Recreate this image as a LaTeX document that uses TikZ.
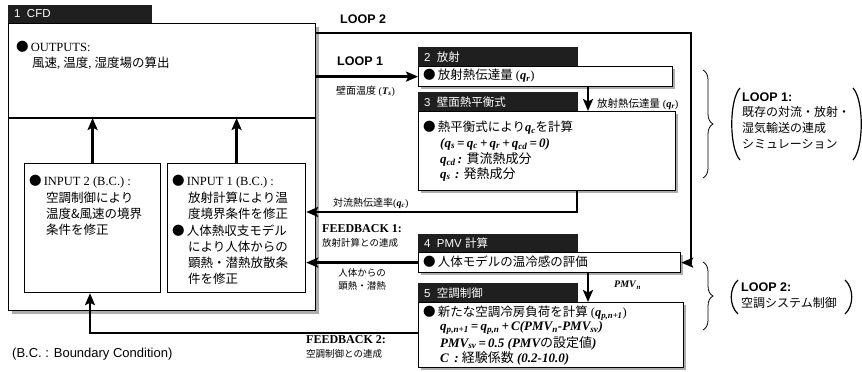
\documentclass[tikz,border=0pt]{standalone}
\usepackage{fontspec}
\setmainfont{Liberation Serif}
\setsansfont{Liberation Sans}
\newfontfamily\jp{Noto Sans CJK JP}
\usetikzlibrary{arrows.meta,decorations.pathreplacing}
\newcommand\J[1]{{\jp\mdseries\upshape #1}}
\newcommand\myV[2]{\textbf{\textit{#1}}\textsubscript{\textbf{\textit{#2}}}}
\begin{document}
\begin{tikzpicture}[x=1pt,y=-1pt,
 boxn/.style={draw, line width=1.2pt, fill=white, inner sep=0pt, anchor=north west},
 tabbox/.style={fill=black!88, inner sep=0pt, anchor=north west, minimum width=160pt, minimum height=19pt},
 tabtxt/.style={anchor=west, inner sep=0pt, text=white, font=\sffamily\fontsize{11.5}{13}\selectfont},
 txt/.style={anchor=west, inner sep=0pt, font=\fontsize{12.5}{15}\selectfont},
 bitxt/.style={anchor=west, inner sep=0pt, font=\bfseries\itshape\fontsize{13}{15}\selectfont},
 sml/.style={anchor=west, inner sep=0pt, font=\fontsize{10}{12}\selectfont},
 fbl/.style={anchor=west, inner sep=0pt, font=\bfseries\fontsize{12}{14}\selectfont},
 looplbl/.style={anchor=west, inner sep=0pt, font=\sffamily\bfseries\fontsize{12.5}{14}\selectfont},
 conn/.style={line width=2.6pt, -{Stealth[length=12pt,width=10pt,inset=2.5pt]}},
 shadowfill/.style={fill=black!32},
 mybrace/.style={decorate, decoration={brace, amplitude=10pt}, line width=0.8pt},
 paren/.style={line width=1.2pt}
]
\useasboundingbox (0,0) rectangle (862,372);
\fill[white] (0,0) rectangle (862,372);

% shadows
\fill[shadowfill] (12,27) rectangle (319,314);
\fill[shadowfill] (421,69) rectangle (675,89);
\fill[shadowfill] (421,114) rectangle (678,193);
\fill[shadowfill] (421,255) rectangle (683,275);
\fill[shadowfill] (421,305) rectangle (686,370);

% ---- 1 CFD ----
\node[tabbox, minimum width=144pt, minimum height=18pt] (t1) at (8,5) {};
\node[tabtxt] (t1t) at (14,14) {1\ \ CFD};
\node[boxn, minimum width=307pt, minimum height=287pt] (cfd) at (8,23) {};
\coordinate (div) at (8,118);
\draw[line width=1.2pt] (div) -- (div -| cfd.east);
\node[txt] (o1) at (16,47) {\J{●}\,OUTPUTS:};
\node[txt] (o2) at (32,63) {\J{風速}, \J{温度}, \J{湿度場の算出}};

\node[boxn, minimum width=136pt, minimum height=129pt] (in2) at (24,163) {};
\node[txt] (i2a) at (29,182) {\J{●}\,INPUT 2 (B.C.) :};
\node[txt] (i2b) at (46,198) {\J{空調制御により}};
\node[txt] (i2c) at (46,214) {\J{温度\&風速の境界}};
\node[txt] (i2d) at (46,230) {\J{条件を修正}};

\node[boxn, minimum width=138pt, minimum height=129pt] (in1) at (167,163) {};
\node[txt] (i1a) at (172,182) {\J{●}\,INPUT 1 (B.C.) :};
\node[txt] (i1b) at (188,198) {\J{放射計算により温}};
\node[txt] (i1c) at (188,214) {\J{度境界条件を修正}};
\node[txt] (i1d) at (172,231) {\J{●}\,\J{人体熱収支モデル}};
\node[txt] (i1e) at (188,247) {\J{により人体からの}};
\node[txt] (i1f) at (188,263) {\J{顕熱・潜熱放散条}};
\node[txt] (i1g) at (188,279) {\J{件を修正}};

\draw[conn] (in2.north) -- (in2.north |- div);
\draw[conn] (in1.north) -- (in1.north |- div);

% ---- 2 ----
\node[tabbox] (t2) at (418,47) {};
\node[tabtxt] (t2t) at (424,57) {2\ \ \J{放射}};
\node[boxn, minimum width=254pt, minimum height=20pt] (b2) at (418,66) {};
\node[txt] (b2a) at (423,76) {\J{●}\,\J{放射熱伝達量} (\myV{q}{r})};

% ---- 3 ----
\node[tabbox] (t3) at (418,92) {};
\node[tabtxt] (t3t) at (424,102) {3\ \ \J{壁面熱平衡式}};
\node[boxn, minimum width=257pt, minimum height=79pt] (b3) at (418,111) {};
\node[txt] (b3a) at (423,128) {\J{●}\,\J{熱平衡式により}\myV{q}{c}\J{を計算}};
\node[bitxt] (b3b) at (440,144) {(q\textsubscript{s}\,=\,q\textsubscript{c}\,+\,q\textsubscript{r}\,+\,q\textsubscript{cd}\,=\,0)};
\node[bitxt] (b3c) at (440,159) {q\textsubscript{cd}\,: \J{貫流熱成分}};
\node[bitxt] (b3d) at (440,174) {q\textsubscript{s}\,\,: \J{発熱成分}};

% ---- 4 ----
\node[tabbox, minimum height=18pt] (t4) at (418,234) {};
\node[tabtxt] (t4t) at (424,243) {4\ \ PMV \J{計算}};
\node[boxn, minimum width=262pt, minimum height=20pt] (b4) at (418,252) {};
\node[txt] (b4a) at (423,262) {\J{●}\,\J{人体モデルの温冷感の評価}};

% ---- 5 ----
\node[tabbox] (t5) at (418,283) {};
\node[tabtxt] (t5t) at (424,293) {5\ \ \J{空調制御}};
\node[boxn, minimum width=265pt, minimum height=65pt] (b5) at (418,302) {};
\node[txt] (b5a) at (423,313) {\J{●}\,\J{新たな空調冷房負荷を計算} (\myV{q}{p,n+1})};
\node[bitxt] (b5b) at (440,328) {q\textsubscript{p,n+1}\,=\,q\textsubscript{p,n}\,+\,C(PMV\textsubscript{n}-PMV\textsubscript{sv})};
\node[bitxt] (b5c) at (440,343) {PMV\textsubscript{sv}\,=\,0.5 (PMV\J{の設定値})};
\node[bitxt] (b5d) at (440,358) {C\, : \J{経験係数} (0.2-10.0)};

% ---- connectors ----
\coordinate (l2s) at (315,33);
\coordinate (l2c) at (691,33);
\draw[conn] (l2s) -- (l2c) |- (b4.east);
\node[looplbl] (lp2) at (340,19) {LOOP 2};

\draw[conn] (cfd.east |- b2.west) -- (b2.west);
\node[looplbl] (lp1) at (337,61) {LOOP 1};
\node[sml] (ts) at (336,91) {\J{壁面温度} (\myV{T}{s})};

\coordinate (ax) at (588,0);
\draw[conn] (b2.south -| ax) -- (b3.north -| ax);
\node[sml, font=\fontsize{10.5}{12}\selectfont] (qr) at (597,104) {\J{放射熱伝達量} (\myV{q}{r})};

\coordinate (qc) at (577,212);
\draw[conn] (b3.south -| qc) -- (qc) -- (in1.east |- qc);
\node[sml] (qcl) at (333,203) {\J{対流熱伝達率}(\myV{q}{c})};

\draw[conn] (b4.west) -- (in1.east |- b4.west);
\node[fbl] (fb1) at (322,229) {FEEDBACK 1:};
\node[sml, font=\fontsize{9.5}{11}\selectfont] (fb1j) at (322,243) {\J{放射計算との連成}};
\node[sml, anchor=center, font=\fontsize{9.5}{11}\selectfont] (hb1) at (362,273) {\J{人体からの}};
\node[sml, anchor=center, font=\fontsize{9.5}{11}\selectfont] (hb2) at (362,286) {\J{顕熱・潜熱}};

\draw[conn] (b4.south -| ax) -- (b5.north -| ax);
\node[sml] (pmvn) at (614,285) {\myV{PMV}{n}};

\coordinate (fb2c) at (90,333);
\draw[conn] (b5.west |- fb2c) -- (fb2c) -- (in2.south -| fb2c);
\node[fbl] (fb2) at (306,340) {FEEDBACK 2:};
\node[sml, font=\fontsize{9.5}{11}\selectfont] (fb2j) at (306,354) {\J{空調制御との連成}};

\node[anchor=west, inner sep=0pt, font=\sffamily\fontsize{13}{15}\selectfont] (bc) at (12,354) {(B.C. : Boundary Condition)};

% ---- right side ----
\draw[mybrace] (703,70) -- (703,178);
\draw[paren] (740,88) .. controls (729,100) and (729,148) .. (740,160);
\draw[paren] (853,88) .. controls (864,100) and (864,148) .. (853,160);
\node[looplbl] (r1a) at (742,97) {LOOP 1:};
\node[txt, font=\fontsize{12}{14}\selectfont] (r1b) at (742,112) {\J{既存の対流・放射・}};
\node[txt, font=\fontsize{12}{14}\selectfont] (r1c) at (742,128) {\J{湿気輸送の連成}};
\node[txt, font=\fontsize{12}{14}\selectfont] (r1d) at (742,144) {\J{シミュレーション}};

\draw[mybrace] (703,262) -- (703,330);
\draw[paren] (738,280) .. controls (729,288) and (729,306) .. (738,314);
\draw[paren] (845,280) .. controls (854,288) and (854,306) .. (845,314);
\node[looplbl] (r2a) at (741,287) {LOOP 2:};
\node[txt, font=\fontsize{12}{14}\selectfont] (r2b) at (741,303) {\J{空調システム制御}};
\end{tikzpicture}
\end{document}
